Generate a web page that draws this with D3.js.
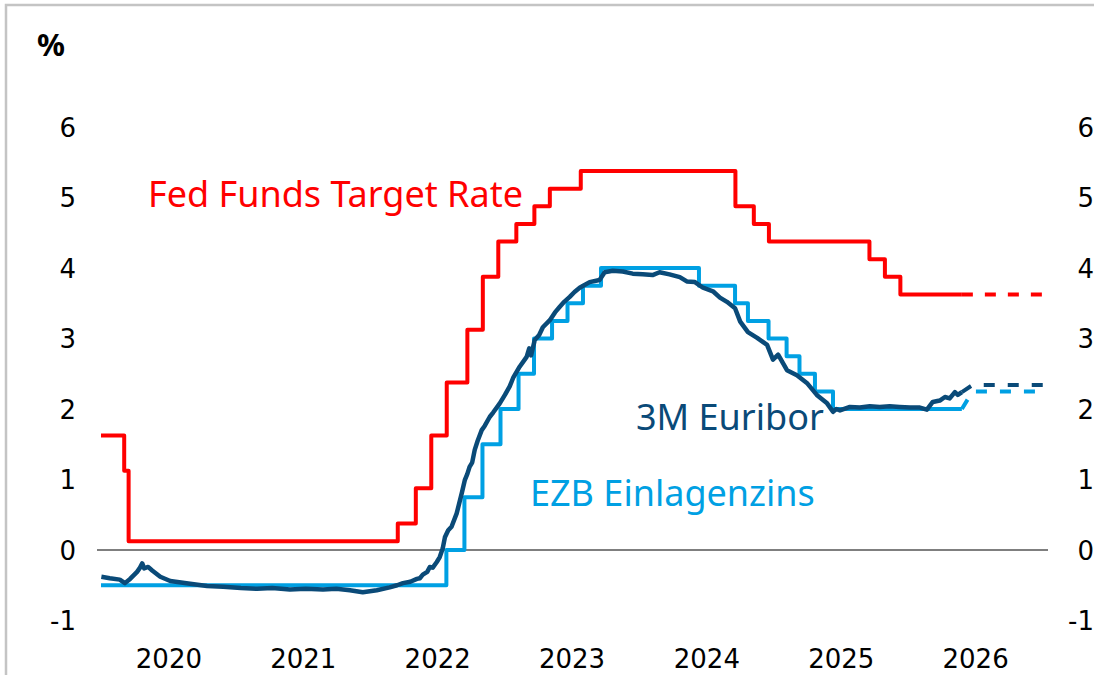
<!DOCTYPE html>
<html>
<head>
<meta charset="utf-8">
<script src="https://cdn.jsdelivr.net/npm/d3@7"></script>
<style>
  html, body { margin: 0; padding: 0; background: #fff; }
  svg { display: block; }
  .tick text { font-family: "DejaVu Sans", Verdana, sans-serif; font-size: 26px; fill: #000; }
  .series-label { font-family: "Noto Sans", "Open Sans", sans-serif; font-size: 36px; }
</style>
</head>
<body>
<svg id="chart" width="1094" height="675"></svg>
<script>
// Fed Funds target rate (midpoint of range), step changes
const fedSteps = [
  ["2020-01-01", 1.625], ["2020-03-04", 1.125], ["2020-03-16", 0.125],
  ["2022-03-17", 0.375], ["2022-05-05", 0.875], ["2022-06-16", 1.625],
  ["2022-07-28", 2.375], ["2022-09-22", 3.125], ["2022-11-03", 3.875],
  ["2022-12-15", 4.375], ["2023-02-02", 4.625], ["2023-03-23", 4.875],
  ["2023-05-04", 5.125], ["2023-07-27", 5.375], ["2024-09-19", 4.875],
  ["2024-11-08", 4.625], ["2024-12-19", 4.375], ["2025-09-18", 4.125],
  ["2025-10-30", 3.875], ["2025-12-11", 3.625], ["2026-05-27", 3.625]
];

// ECB deposit rate, step changes
const ecbSteps = [
  ["2020-01-01", -0.5], ["2022-07-27", 0.0], ["2022-09-14", 0.75],
  ["2022-11-02", 1.5], ["2022-12-21", 2.0], ["2023-02-08", 2.5],
  ["2023-03-22", 3.0], ["2023-05-10", 3.25], ["2023-06-21", 3.5],
  ["2023-08-02", 3.75], ["2023-09-20", 4.0], ["2024-06-12", 3.75],
  ["2024-09-18", 3.5], ["2024-10-23", 3.25], ["2024-12-18", 3.0],
  ["2025-02-05", 2.75], ["2025-03-12", 2.5], ["2025-04-23", 2.25],
  ["2025-06-11", 2.0], ["2026-05-27", 2.0]
];

// 3M Euribor
const euribor = [
  ["2020-01-02", -0.38], ["2020-01-25", -0.40], ["2020-02-21", -0.42],
  ["2020-03-06", -0.47], ["2020-03-20", -0.41], ["2020-04-08", -0.31],
  ["2020-04-16", -0.25], ["2020-04-22", -0.19], ["2020-04-27", -0.26],
  ["2020-05-08", -0.24], ["2020-05-19", -0.29], ["2020-06-10", -0.38],
  ["2020-07-07", -0.44], ["2020-08-30", -0.48], ["2020-10-15", -0.51],
  ["2020-11-28", -0.52], ["2021-01-15", -0.54], ["2021-02-28", -0.55],
  ["2021-04-10", -0.54], ["2021-05-28", -0.56], ["2021-07-10", -0.55],
  ["2021-08-26", -0.56], ["2021-10-01", -0.55], ["2021-11-07", -0.57],
  ["2021-12-12", -0.60], ["2022-01-19", -0.57], ["2022-02-23", -0.53],
  ["2022-03-15", -0.50], ["2022-03-31", -0.47], ["2022-04-20", -0.45],
  ["2022-05-08", -0.41], ["2022-05-16", -0.40], ["2022-05-24", -0.35],
  ["2022-06-05", -0.31], ["2022-06-12", -0.24], ["2022-06-20", -0.25],
  ["2022-07-01", -0.17], ["2022-07-09", -0.10], ["2022-07-17", 0.02],
  ["2022-07-23", 0.18], ["2022-08-01", 0.28], ["2022-08-10", 0.33],
  ["2022-08-24", 0.52], ["2022-09-07", 0.81], ["2022-09-15", 0.99],
  ["2022-09-22", 1.08], ["2022-09-28", 1.18], ["2022-10-05", 1.24],
  ["2022-10-12", 1.42], ["2022-10-20", 1.55], ["2022-10-31", 1.70],
  ["2022-11-08", 1.76], ["2022-11-22", 1.89], ["2022-12-01", 1.95],
  ["2022-12-19", 2.08], ["2023-01-02", 2.20], ["2023-01-15", 2.32],
  ["2023-01-25", 2.45], ["2023-02-11", 2.60], ["2023-03-02", 2.74],
  ["2023-03-09", 2.86], ["2023-03-14", 2.76], ["2023-03-24", 2.98],
  ["2023-04-05", 3.05], ["2023-04-15", 3.16], ["2023-05-04", 3.26],
  ["2023-05-18", 3.37], ["2023-05-31", 3.45], ["2023-06-12", 3.52],
  ["2023-06-27", 3.59], ["2023-07-10", 3.66], ["2023-07-24", 3.72],
  ["2023-08-20", 3.80], ["2023-09-16", 3.83], ["2023-09-30", 3.94],
  ["2023-10-22", 3.96], ["2023-11-18", 3.95], ["2023-12-15", 3.92],
  ["2024-01-11", 3.91], ["2024-02-07", 3.90], ["2024-02-26", 3.94],
  ["2024-03-24", 3.91], ["2024-04-21", 3.87], ["2024-05-10", 3.81],
  ["2024-06-01", 3.80], ["2024-06-23", 3.72], ["2024-07-20", 3.67],
  ["2024-08-08", 3.58], ["2024-08-27", 3.52], ["2024-09-18", 3.43],
  ["2024-10-02", 3.24], ["2024-10-23", 3.09], ["2024-11-17", 3.01],
  ["2024-12-14", 2.91], ["2024-12-30", 2.70], ["2025-01-13", 2.77],
  ["2025-02-06", 2.55], ["2025-03-05", 2.48], ["2025-04-01", 2.37],
  ["2025-04-28", 2.20], ["2025-05-26", 2.08], ["2025-06-11", 1.96],
  ["2025-06-20", 2.00], ["2025-06-30", 1.98], ["2025-07-27", 2.03],
  ["2025-08-23", 2.02], ["2025-09-19", 2.04], ["2025-10-16", 2.03],
  ["2025-11-12", 2.04], ["2025-12-09", 2.03], ["2026-01-06", 2.02],
  ["2026-02-02", 2.02], ["2026-02-21", 1.99], ["2026-03-09", 2.10],
  ["2026-03-28", 2.12], ["2026-04-11", 2.17], ["2026-04-24", 2.15],
  ["2026-05-08", 2.24], ["2026-05-16", 2.20], ["2026-05-27", 2.24]
];

// forecasts (dashed)
const fedForecast = [["2026-05-27", 3.625], ["2027-01-05", 3.625]];
const euriborForecast = [["2026-05-27", 2.24], ["2026-06-25", 2.34], ["2027-01-05", 2.34]];
const ecbForecast = [["2026-05-27", 2.0], ["2026-06-25", 2.25], ["2027-01-05", 2.25]];

const yTicks = [-1, 0, 1, 2, 3, 4, 5, 6];
const years = [2020, 2021, 2022, 2023, 2024, 2025, 2026];

const red = "#ff0000", darkBlue = "#0a4a78", lightBlue = "#00a0e3";

const parse = d3.timeParse("%Y-%m-%d");
const svg = d3.select("#chart");

const x = d3.scaleTime()
  .domain([new Date(2020, 0, 1), new Date(2027, 0, 1)])
  .range([101, 1042.5]);

const y = d3.scaleLinear()
  .domain([-1, 6])
  .range([620.5, 127]);

// frame
svg.append("path")
  .attr("d", "M6,675V5H1094")
  .attr("fill", "none")
  .attr("stroke", "#c4c4c4")
  .attr("stroke-width", 2.5);

// axes (labels only), plain hyphen for negatives
const fmt = d => String(d);

svg.append("g")
  .attr("transform", "translate(76,0)")
  .call(d3.axisLeft(y).tickValues(yTicks).tickSize(0).tickPadding(0).tickFormat(fmt))
  .call(g => g.select(".domain").remove())
  .call(g => g.selectAll(".tick text").attr("dy", null).attr("dominant-baseline", "central"));

svg.append("g")
  .attr("transform", "translate(1094,0)")
  .call(d3.axisLeft(y).tickValues(yTicks).tickSize(0).tickPadding(0).tickFormat(fmt))
  .call(g => g.select(".domain").remove())
  .call(g => g.selectAll(".tick text").attr("dy", null).attr("dominant-baseline", "central"));

svg.append("g")
  .attr("transform", "translate(0,648)")
  .call(d3.axisBottom(x)
    .tickValues(years.map(yr => new Date(yr, 6, 2)))
    .tickFormat(d3.timeFormat("%Y"))
    .tickSize(0).tickPadding(0))
  .call(g => g.select(".domain").remove())
  .call(g => g.selectAll(".tick text").attr("dy", "0.02em").attr("dominant-baseline", "hanging"));

// zero line
svg.append("line")
  .attr("x1", 97).attr("x2", 1048)
  .attr("y1", y(0)).attr("y2", y(0))
  .attr("stroke", "#555").attr("stroke-width", 1.5);

const toPts = arr => arr.map(([d, v]) => ({ date: parse(d), value: v }));

const stepLine = d3.line()
  .x(d => x(d.date)).y(d => y(d.value))
  .curve(d3.curveStepAfter);

const plainLine = d3.line()
  .x(d => x(d.date)).y(d => y(d.value));

function draw(gen, data, color, width, dash) {
  svg.append("path")
    .datum(toPts(data))
    .attr("d", gen)
    .attr("fill", "none")
    .attr("stroke", color)
    .attr("stroke-width", width)
    .attr("stroke-linejoin", "round")
    .attr("stroke-dasharray", dash || null);
}

draw(plainLine, ecbForecast, lightBlue, 4, "11,13");
draw(plainLine, euriborForecast, darkBlue, 4, "11,13");
draw(plainLine, fedForecast, red, 4, "11,12");
draw(stepLine, ecbSteps, lightBlue, 4);
draw(plainLine, euribor, darkBlue, 4.5);
draw(stepLine, fedSteps, red, 4);

// texts
svg.append("text")
  .attr("x", 37).attr("y", 56)
  .attr("font-family", "Noto Sans, sans-serif")
  .attr("font-weight", "bold")
  .attr("font-size", 31)
  .text("%");

svg.append("text").attr("class", "series-label")
  .attr("x", 148).attr("y", 207).attr("fill", red)
  .text("Fed Funds Target Rate");

svg.append("text").attr("class", "series-label")
  .attr("x", 636).attr("y", 430).attr("fill", darkBlue)
  .text("3M Euribor");

svg.append("text").attr("class", "series-label")
  .attr("x", 530).attr("y", 506).attr("fill", lightBlue)
  .text("EZB Einlagenzins");
</script>
</body>
</html>
